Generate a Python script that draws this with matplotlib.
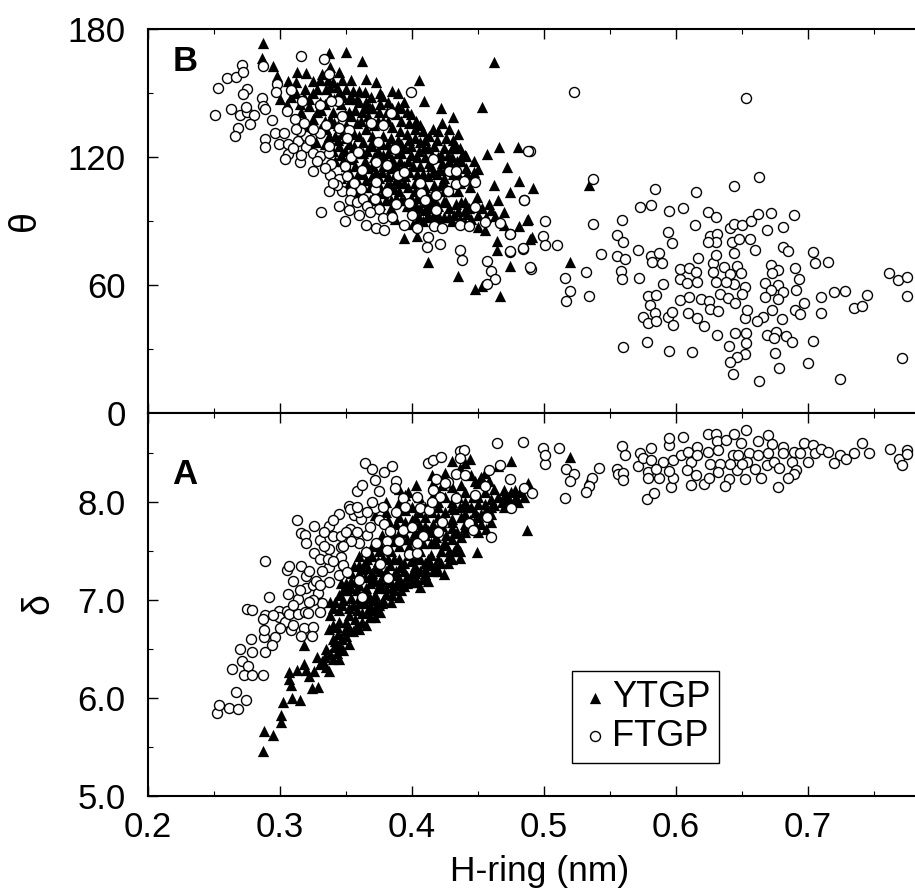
import matplotlib
matplotlib.use("Agg")
import matplotlib.pyplot as plt
from matplotlib.ticker import MultipleLocator

plt.rcParams['font.family'] = ['Liberation Sans', 'DejaVu Sans']

# Panel B: H-ring distance (nm), theta (degrees)
b_ftgp = [
 (.523,150.3),(.653,147.7),(.489,123),(.537,109.7),(.584,105),(.615,103.4),(.644,106.4),(.663,110.5),(.485,99.7),(.573,96.4),
 (.581,97.5),(.595,94.9),(.605,96),(.624,94.1),(.630,91.7),(.614,88.1),(.559,90.5),(.537,88.6),(.501,90.2),(.474,83.9),
 (.555,83.6),(.560,80),(.594,84.7),(.597,79.9),(.499,83.1),(.501,78.9),(.510,78.9),(.484,77),(.474,75.6),(.543,74.5),
 (.571,76.4),(.555,73.4),(.561,72.2),(.581,73.4),(.587,74.9),(.582,71),(.589,70.5),(.490,67.7),(.532,65.9),(.516,63.1),
 (.558,66.7),(.559,62.8),(.572,63.3),(.590,60.6),(.520,57.2),(.534,54.7),(.517,52.4),(.579,55),(.585,55.3),(.580,50.6),
 (.584,46.7),(.575,45.2),(.579,42),(.585,43),(.594,45.2),(.597,47.2),(.598,41.4),(.560,31.1),(.578,33.1),(.595,29.2),
 (.612,28.8),(.631,36.7),(.621,40.6),(.616,44.4),(.609,46.7),(.603,53.1),(.610,54.2),(.603,62.8),(.608,60.8),(.603,67.5),
 (.610,67.8),(.615,66),(.616,61.6),(.617,72.8),(.619,53.4),(.625,52.7),(.626,48.8),(.632,47.7),(.633,55.8),(.639,53.8),
 (.645,51.6),(.630,61.6),(.636,68.3),(.628,70.1),(.630,74),(.628,66.3),(.644,74.9),(.660,76.6),(.642,80),(.648,81.6),
 (.656,81.6),(.626,83.1),(.631,83.9),(.630,80),(.624,80),(.641,86.6),(.644,88.6),(.650,88.3),(.657,90.2),(.662,93.3),
 (.672,93.9),(.669,85.6),(.681,87),(.689,92.8),(.681,77.7),(.685,76.1),(.704,75.3),(.705,70.5),(.715,70.6),(.672,69.5),
 (.690,67.8),(.677,67.2),(.673,65.6),(.693,62.8),(.667,60.9),(.677,60.2),(.691,57.7),(.681,56.6),(.672,57.7),(.667,54.2),
 (.677,53.4),(.646,69.1),(.649,65.6),(.641,65.2),(.644,60.5),(.652,58.9),(.638,61.3),(.650,55.8),(.710,54.2),(.720,56.9),
 (.728,57.4),(.745,55.5),(.735,49.4),(.741,50.3),(.761,65.6),(.768,62.4),(.775,63.6),(.775,55),(.771,25.6),(.697,51.4),
 (.690,48.4),(.694,46.4),(.710,46.9),(.673,48.4),(.680,44.1),(.666,45.2),(.661,43.3),(.652,44.4),(.654,48.4),(.645,37.5),
 (.653,37.5),(.653,32.8),(.640,31.6),(.652,27.7),(.646,26.1),(.641,23.8),(.643,18.3),(.663,14.9),(.675,28),(.678,21),
 (.700,23.3),(.724,15.9),(.704,33.9),(.669,36.6),(.676,37.8),(.683,36.3),(.688,33.1),(.674,35),
 (.251,139.7),(.253,152.2),(.260,157),(.267,157.4),(.271,163.1),(.272,159.7),(.275,151.9),(.272,149.5),(.263,142.5),(.270,139.7),
 (.275,141),(.274,143.3),(.280,139.7),(.277,135.5),(.268,133.4),(.266,129.9),(.286,147.7),(.287,143.8),(.289,142.5),(.287,162.8),
 (.298,154.2),(.297,150.3),(.308,151.6),(.317,146.1),(.316,167.5),(.333,165.9),(.337,158.9),(.294,137.4),(.305,141.4),(.311,137.8),
 (.296,131.3),(.303,131.1),(.289,128.4),(.289,124.5),(.299,126.1),(.306,126.1),(.314,127.7),(.320,129.7),(.315,132.4),(.330,131.1),
 (.306,121.4),(.304,119.1),(.315,117.5),(.320,124.9),(.325,121.7),(.330,120.6),(.337,121.7),(.337,125.3),(.339,116.7),(.325,113.3),
 (.338,111.7),(.349,115.6),(.345,109.7),(.351,111.3),(.337,103.9),(.347,104.2),(.354,103.4),(.361,105),(.353,99.9),(.358,99.1),
 (.363,100.3),(.372,105),(.372,100.3),(.375,95.6),(.381,103.4),(.388,98),(.398,98.4),(.378,91.3),(.331,94.1),(.349,90.2),
 (.365,88),(.373,86.7),(.379,85.8),(.394,88.3),(.404,86.7),(.417,87.5),(.423,86.6),(.412,82.4),(.421,79.2),(.411,77.8),
 (.436,76.6),(.438,71.9),(.436,88.3),(.443,87.5),(.455,89.4),(.467,88.9),(.474,83.9),(.474,75.8),(.484,77.2),(.457,71.4),
 (.460,66.7),(.463,62.8),(.457,60.5),(.489,68.3),(.488,123),(.485,99.9),(.399,150.3),(.406,107.7),(.407,103),(.418,102.3),
 (.418,95.3),(.427,103.9),(.428,113.3),(.433,113.6),(.433,107.4),(.439,108.6),(.448,108.4),(.448,96.7),(.416,119.1),(.389,111.6),
 (.394,113.1),(.381,116.4),(.373,117.5),(.362,113.9),(.354,120.2),(.359,122.2),(.374,127.2),(.378,135.2),(.369,136.1),(.352,132.7),
 (.345,133.4),(.335,135.2),(.347,139.4),(.344,146.1),(.339,146.4),(.330,144.5),(.384,140.6),(.351,128.8),(.387,123.8),(.373,108.1),
 (.31,124),(.316,121),(.323,128),(.328,118),(.334,115),(.312,133),(.318,136),(.325,133),(.343,107),(.356,108),
 (.366,97),(.385,92),(.4,93),(.41,100),(.345,97),(.34,108),(.352,95),(.36,93),(.368,94),
]
b_ytgp = [
 (.287,173.5),(.286,166.3),(.295,162.8),(.337,168.6),(.350,169),(.362,165.2),(.462,164.4),(.453,143.6),(.365,156.6),(.373,155.3),
 (.405,156.1),(.313,160),(.320,159.2),(.325,155.8),(.338,162),(.306,155.8),(.298,158.1),(.385,151.1),(.364,150.6),(.377,148.8),
 (.409,146.4),(.422,142.8),(.431,138.6),(.423,135.9),(.416,133.1),(.466,124.5),(.480,124.5),(.472,115.2),(.441,120.6),(.457,121.4),
 (.447,118.3),(.450,114.4),(.462,107),(.481,108.6),(.474,103.4),(.488,91),(.481,87.8),(.470,94.1),(.465,99.9),(.458,98),
 (.449,101.1),(.440,99),(.435,94.9),(.442,93.3),(.463,92.5),(.450,87),(.464,80.5),(.464,76.4),(.474,68.8),(.489,81.6),
 (.435,64.4),(.412,70.9),(.394,82),(.404,83.1),(.401,88.6),(.387,91),(.411,91.7),(.416,92.5),(.424,91.7),(.430,90.2),
 (.420,97.2),(.414,97.2),(.424,99.5),(.453,59.7),(.448,58.1),(.467,55),(.492,105.5),(.487,90.5),(.491,82.4),(.520,70.9),
 (.534,107),(.312,150),(.318,148),(.325,150),(.33,146),(.322,144),(.331,142),(.316,141),(.325,138),(.334,137),
 (.337,130),(.335,152),(.340,155),(.345,150),(.350,152),(.338,148),(.346,145),(.354,148),(.36,146),(.34,141),
 (.349,140),(.357,142),(.335,133),(.342,130),(.35,135),(.358,136),(.345,125),(.34,123),(.352,126),(.36,130),
 (.365,133),(.355,120),(.348,118),(.36,122),(.352,113),(.365,146),(.37,143),(.376,145),(.382,146),(.389,150),
 (.367,139),(.374,137),(.381,141),(.388,140),(.394,146),(.37,130),(.378,130),(.385,134),(.392,137),(.398,136),
 (.366,123),(.374,123),(.382,126),(.389,128),(.396,131),(.402,133),(.37,116),(.378,116),(.385,119),(.392,122),
 (.399,125),(.406,127),(.365,109),(.375,110),(.382,111),(.39,114),(.397,118),(.404,120),(.378,103),(.386,105),
 (.394,108),(.41,128),(.417,125),(.424,124),(.431,128),(.41,120),(.416,113),(.423,117),(.43,120),(.436,124),
 (.404,112),(.41,106),(.417,107),(.424,110),(.431,112),(.437,118),(.402,104),(.41,99),(.417,100),(.424,104),
 (.4,97),(.394,100),(.384,96),(.435,104),(.428,96),(.412,93),(.405,92),(.39,108),(.387,112),(.30,147),
 (.305,145),(.312,155),(.319,152),(.328,152),(.33,156),(.345,160),(.352,147),(.36,151),
 (.334,145),(.341,147),(.348,148),(.355,151),(.362,141),(.369,148),(.376,150),(.341,136),(.347,131),(.354,139),
 (.361,137),(.368,143),(.375,141),(.382,137),(.389,144),(.396,141),(.403,137),(.408,132),(.342,118),(.349,123),
 (.356,125),(.363,127),(.37,125),(.377,126),(.384,129),(.391,132),(.398,128),(.405,123),(.412,124),(.419,128),
 (.426,129),(.433,125),(.44,121),(.35,116),(.357,116),(.364,118),(.371,120),(.378,121),(.385,124),(.392,126),
 (.399,121),(.406,116),(.413,117),(.42,120),(.427,121),(.434,118),(.441,115),(.447,113),(.346,110),(.356,108),
 (.363,112),(.37,111),(.377,113),(.384,115),(.391,118),(.398,113),(.405,108),(.412,111),(.419,112),(.426,115),
 (.433,116),(.44,110),(.36,104),(.368,106),(.376,106),(.383,107),(.39,104),(.397,106),(.404,101),(.411,102),
 (.418,104),(.425,107),(.432,108),(.376,98),(.384,100),(.392,100),(.399,101),(.406,96),(.413,96),(.42,93),
 (.428,92),(.436,91),(.443,96),(.45,93),(.456,92),(.46,95),(.437,99),(.445,91),(.47,88),(.318,135),
 (.324,133),(.33,133),(.327,127),(.334,126),(.308,148),(.315,145),(.322,147),(.328,141),(.332,159),(.336,156),
 (.347,156),(.354,156),(.338,153),(.343,153),
 (.338,138),(.344,135),(.352,141),(.358,147),(.364,143),(.371,135),(.378,137),(.385,143),(.392,143),(.399,140),
 (.406,135),(.413,130),(.42,132),(.428,133),(.435,131),(.344,128),(.35,129),(.356,131),(.363,122),(.369,126),
 (.376,119),(.382,122),(.389,122),(.395,124),(.402,129),(.409,124),(.415,121),(.422,121),(.43,124),(.438,121),
 (.346,121),(.353,119),(.36,113),(.366,115),(.373,113),(.38,117),(.387,116),(.394,116),(.401,116),(.408,112),
 (.414,116),(.421,114),(.428,118),(.435,112),(.442,112),(.352,108),(.358,109),(.368,100),(.373,104),(.381,107),
 (.388,109),(.395,111),(.402,108),(.409,103),(.415,102),(.422,107),(.429,104),(.436,108),(.444,106),(.38,100),
 (.388,101),(.396,97),(.403,97),(.41,95),(.418,96),(.426,99),(.433,98),(.44,95),(.447,97),(.453,96),
 (.408,90),(.42,89),(.432,93),(.44,89),(.455,86),
]

# Panel A: H-ring distance (nm), delta
a_ftgp = [
 (.252,5.85),(.254,5.93),(.261,5.90),(.268,5.89),(.274,5.98),(.267,6.06),(.264,6.30),(.271,6.38),(.276,6.33),(.273,6.24),
 (.279,6.24),(.287,6.24),(.270,6.50),(.279,6.47),(.278,6.60),(.289,6.47),(.288,6.62),(.288,6.69),(.296,6.62),(.294,6.54),
 (.275,6.91),(.279,6.90),(.289,6.85),(.287,6.81),(.299,6.89),(.299,6.83),(.305,6.89),(.304,6.78),(.308,6.69),(.307,6.86),
 (.314,6.86),(.319,6.88),(.292,7.03),(.306,7.06),(.314,7.01),(.320,7.12),(.325,7.15),(.320,7.25),(.289,7.40),(.305,7.31),
 (.307,7.35),(.316,7.35),(.313,7.82),(.316,7.68),(.319,7.66),(.320,7.58),(.326,7.76),(.330,7.61),(.337,7.76),(.340,7.65),
 (.346,7.65),(.337,7.52),(.346,7.54),(.326,7.48),(.330,7.42),(.337,7.34),(.346,7.44),(.348,7.36),(.345,7.26),(.351,7.29),
 (.329,7.07),(.337,7.18),(.332,6.97),(.330,6.88),(.321,6.87),(.318,6.72),(.325,6.73),(.316,6.63),(.324,6.63),(.345,7.88),
 (.352,7.96),(.356,7.87),(.353,7.93),(.358,8.11),(.362,8.17),(.364,8.40),(.370,8.34),(.379,8.31),(.385,8.37),(.372,8.23),
 (.375,8.11),(.388,8.22),(.387,8.14),(.353,7.73),(.358,7.70),(.366,7.66),(.368,7.75),(.361,7.83),(.372,7.94),(.375,7.82),
 (.379,7.78),(.383,7.71),(.388,7.90),(.393,7.72),(.400,7.75),(.408,7.65),(.393,8.04),(.404,8.05),(.406,7.94),(.413,7.92),
 (.423,7.80),(.373,7.58),(.381,7.60),(.360,7.58),(.354,7.6),(.365,7.49),(.381,7.51),(.398,7.47),(.404,7.48),(.376,7.37),
 (.382,7.23),(.360,7.21),(.362,7.03),(.412,8.40),(.416,8.43),(.422,8.46),(.418,8.24),(.416,8.12),(.427,8.21),(.433,8.29),
 (.421,8.05),(.433,8.04),(.436,8.52),(.439,8.53),(.436,8.45),(.464,8.60),(.484,8.61),(.499,8.55),(.501,8.39),(.501,8.48),
 (.458,8.33),(.467,8.38),(.474,8.24),(.455,8.16),(.448,8.07),(.485,8.14),(.491,8.09),(.475,7.94),(.457,7.85),(.443,7.79),
 (.446,7.72),(.460,7.64),(.511,8.55),(.517,8.34),(.523,8.29),(.520,8.22),(.516,8.04),(.542,8.35),(.536,8.25),(.534,8.16),
 (.532,8.10),(.559,8.57),(.561,8.48),(.555,8.34),(.556,8.29),(.560,8.30),(.560,8.23),(.571,8.37),(.573,8.50),(.575,8.45),
 (.581,8.55),(.581,8.43),(.579,8.31),(.579,8.25),(.587,8.25),(.590,8.41),(.585,8.34),(.578,8.03),(.583,8.09),(.596,8.15),
 (.598,8.25),(.595,8.32),(.598,8.43),(.595,8.58),(.595,8.65),(.605,8.67),(.604,8.48),(.609,8.51),(.616,8.56),(.611,8.41),
 (.608,8.33),(.615,8.28),(.611,8.17),(.621,8.19),(.625,8.25),(.626,8.39),(.616,8.48),(.624,8.51),(.624,8.70),(.630,8.70),
 (.631,8.62),(.632,8.53),(.633,8.39),(.638,8.63),(.643,8.48),(.644,8.70),(.649,8.6),(.653,8.74),(.662,8.62),(.670,8.69),
 (.673,8.59),(.655,8.50),(.654,8.41),(.646,8.33),(.641,8.39),(.632,8.31),(.640,8.24),(.637,8.16),(.652,8.24),(.664,8.25),
 (.677,8.15),(.670,8.50),(.662,8.48),(.669,8.38),(.674,8.41),(.678,8.35),(.681,8.56),(.681,8.50),(.688,8.41),(.689,8.51),
 (.694,8.50),(.697,8.60),(.704,8.58),(.705,8.50),(.710,8.54),(.715,8.51),(.700,8.41),(.691,8.33),(.689,8.29),(.685,8.25),
 (.724,8.48),(.729,8.44),(.720,8.40),(.735,8.50),(.741,8.60),(.746,8.50),(.762,8.54),(.769,8.44),(.771,8.38),(.775,8.53),
 (.775,8.49),(.647,8.48),(.660,8.34),(.650,8.39),
 (.31,7.2),(.315,7.1),(.322,7.3),(.327,7.2),(.31,6.95),(.325,7.0),(.332,7.3),(.336,7.42),(.333,7.55),(.34,7.4),
 (.35,7.7),(.34,7.82),(.333,7.7),(.348,7.55),(.36,7.9),(.366,7.9),(.378,7.95),(.37,8.0),(.358,7.95),(.39,7.6),
 (.404,7.58),(.42,7.7),(.395,7.95),(.415,8.0),(.425,8.2),(.44,8.28),(.31,6.75),(.3,6.72),(.295,6.85),(.322,6.98),
 (.33,7.15),
]
a_ytgp = [
 (.287,5.46),(.288,5.66),(.295,5.62),(.301,5.83),(.301,5.76),(.302,5.96),(.309,6.0),(.315,5.98),(.308,6.13),(.307,6.19),
 (.307,6.27),(.324,6.10),(.329,6.11),(.318,6.35),(.313,6.29),(.320,6.29),(.328,6.42),(.322,6.22),(.335,6.32),(.348,6.49),
 (.343,6.46),(.318,6.54),(.335,6.5),(.34,6.6),(.345,6.55),(.35,6.63),(.337,6.7),(.343,6.73),(.35,6.78),(.345,6.9),
 (.338,6.85),(.352,6.92),(.357,6.81),(.362,6.87),(.368,6.83),(.368,6.94),(.36,6.97),(.372,6.83),(.338,6.98),(.345,7.05),
 (.35,7.1),(.358,7.1),(.365,7.12),(.372,7.05),(.378,7.0),(.385,7.05),(.38,7.12),(.346,7.17),(.354,7.2),(.36,7.28),
 (.368,7.25),(.376,7.2),(.388,7.15),(.392,7.1),(.356,7.35),(.364,7.38),(.372,7.33),(.38,7.3),(.388,7.3),(.396,7.25),
 (.403,7.22),(.41,7.27),(.36,7.45),(.37,7.45),(.378,7.43),(.386,7.42),(.394,7.38),(.402,7.35),(.41,7.38),(.42,7.3),
 (.424,7.27),(.418,7.35),(.427,7.38),(.432,7.5),(.37,7.55),(.384,7.5),(.39,7.55),(.398,7.55),(.406,7.5),(.414,7.46),
 (.422,7.5),(.428,7.45),(.424,7.58),(.414,7.58),(.418,7.64),(.43,7.62),(.44,7.7),(.44,7.78),(.43,7.74),(.42,7.72),
 (.41,7.76),(.395,7.8),(.402,7.85),(.39,7.85),(.41,7.85),(.42,7.85),(.43,7.83),(.38,7.9),(.372,7.87),(.38,8.0),
 (.39,8.0),(.4,7.95),(.412,7.96),(.42,7.95),(.432,7.93),(.44,7.88),(.448,7.9),(.456,7.92),(.462,7.97),(.468,8.0),
 (.473,8.02),(.48,8.0),(.485,8.05),(.46,8.03),(.45,7.98),(.44,8.0),(.43,8.0),(.452,8.26),(.458,8.22),(.455,8.3),
 (.465,8.37),(.475,8.42),(.488,8.2),(.44,8.4),(.444,8.44),(.43,8.42),(.43,8.15),(.416,8.2),(.403,8.17),(.39,8.13),
 (.42,8.1),(.44,8.1),(.46,7.8),(.452,7.78),(.456,7.73),(.45,7.7),(.487,7.72),(.449,7.49),(.406,7.13),(.446,8.05),
 (.475,8.1),(.520,8.46),(.534,8.24),(.473,8.05),(.479,8.05),(.478,8.12),
 (.33,6.35),(.326,6.28),(.334,6.42),(.34,6.4),(.337,6.28),(.345,6.4),(.341,6.52),(.352,6.55),(.355,6.68),(.36,6.7),
 (.365,6.75),(.349,6.69),(.344,6.65),(.352,6.85),(.358,6.9),(.364,6.97),(.37,6.9),(.376,6.88),(.375,6.95),(.384,6.98),
 (.39,7.03),(.342,6.98),(.348,7.0),(.354,7.02),(.362,7.05),(.368,7.02),(.374,7.12),(.385,7.12),(.396,7.17),(.4,7.28),
 (.406,7.3),(.35,7.17),(.358,7.18),(.364,7.24),(.372,7.2),(.382,7.22),(.39,7.22),(.404,7.18),(.412,7.2),(.36,7.36),
 (.367,7.33),(.376,7.3),(.383,7.36),(.391,7.34),(.399,7.4),(.406,7.42),(.414,7.36),(.422,7.38),(.43,7.42),(.436,7.43),
 (.434,7.55),(.426,7.66),(.437,7.64),(.365,7.5),(.375,7.5),(.38,7.55),(.386,7.6),(.392,7.62),(.4,7.62),(.408,7.58),
 (.41,7.66),(.402,7.7),(.393,7.7),(.385,7.68),(.377,7.66),(.388,7.78),(.405,7.78),(.416,7.78),(.423,7.76),(.434,7.7),
 (.447,7.8),(.382,7.82),(.415,7.9),(.425,7.9),(.436,7.95),(.405,7.9),(.395,7.92),(.445,7.95),(.455,7.98),(.47,8.06),
 (.465,8.05),(.478,8.03),(.45,7.85),(.46,7.88),(.435,8.05),(.425,8.05),(.415,8.05),(.405,8.05),(.395,8.07),(.437,8.17),
 (.448,8.22),(.45,8.2),(.445,8.28),(.462,8.13),(.455,8.1),(.47,8.12),(.482,8.1),(.423,8.17),(.425,8.3),(.436,8.35),
 (.415,8.28),(.397,8.1),
 (.332,6.38),(.338,6.45),(.346,6.5),(.342,6.58),(.347,6.6),(.352,6.72),(.358,6.75),(.362,6.78),(.366,6.88),(.372,6.92),
 (.377,6.97),(.345,6.78),(.34,6.75),(.34,6.92),(.347,6.95),(.355,6.95),(.36,7.02),(.366,7.05),(.372,7.0),(.38,7.06),
 (.386,7.1),(.394,7.14),(.348,7.1),(.354,7.12),(.36,7.15),(.368,7.17),(.376,7.15),(.384,7.18),(.392,7.18),(.4,7.18),
 (.408,7.22),(.354,7.28),(.362,7.32),(.37,7.28),(.378,7.25),(.386,7.26),(.394,7.3),(.402,7.28),(.41,7.32),(.416,7.3),
 (.366,7.42),(.374,7.4),(.382,7.42),(.39,7.42),(.398,7.46),(.404,7.44),(.412,7.42),(.42,7.42),(.428,7.5),(.436,7.5),
 (.376,7.56),(.382,7.62),(.39,7.68),(.396,7.62),(.404,7.65),(.412,7.72),(.418,7.58),(.426,7.56),(.432,7.68),(.44,7.75),
 (.398,7.75),(.406,7.72),(.414,7.7),(.422,7.8),(.43,7.8),(.437,7.85),(.444,7.82),(.452,7.88),(.4,7.82),(.41,7.95),
 (.42,8.0),(.43,7.95),(.44,7.95),(.45,8.05),(.46,7.95),(.47,7.95),
]
x_ticks = [0.2, 0.3, 0.4, 0.5, 0.6, 0.7]
theta_ticks = [0, 60, 120, 180]
delta_ticks = [5.0, 6.0, 7.0, 8.0]
legend_names = ["YTGP", "FTGP"]

W, H = 915, 892
fig = plt.figure(figsize=(W/100, H/100), dpi=100)
L = 148/W
ax_b = fig.add_axes([L, (H-413)/H, 1-L, 384/H])
ax_a = fig.add_axes([L, (H-796)/H, 1-L, 383/H])

def scatter(ax, tri, cir):
    ax.scatter(*zip(*tri), marker='^', s=66, c='k', linewidths=0, zorder=2, label=legend_names[0])
    ax.scatter(*zip(*cir), marker='o', s=52, facecolors='white', edgecolors='k', linewidths=1.0, zorder=3, label=legend_names[1])

scatter(ax_b, b_ytgp, b_ftgp)
scatter(ax_a, a_ytgp, a_ftgp)

xlim = (0.2, 0.781)
for ax in (ax_a, ax_b):
    ax.set_xlim(*xlim)
    ax.spines['right'].set_visible(False)
    for s in ('left', 'top', 'bottom'):
        ax.spines[s].set_linewidth(1.5)
    ax.set_xticks(x_ticks)
    ax.xaxis.set_minor_locator(MultipleLocator(0.05))
    ax.tick_params(which='major', direction='in', length=7, width=1, top=True, labelsize=25)
    ax.tick_params(which='minor', direction='in', length=3.5, width=0.8, top=True)
    ax.tick_params(axis='y', which='major', pad=16)
    ax.tick_params(axis='x', which='major', pad=11)

ax_b.set_ylim(0, 180)
ax_b.set_yticks(theta_ticks)
ax_b.yaxis.set_minor_locator(MultipleLocator(30))
ax_b.tick_params(axis='x', labelbottom=False)
ax_b.set_ylabel("θ", fontsize=27, va='center')
ax_b.yaxis.set_label_coords((25-148)/(W-148), (413-221)/384)
ax_b.text(0.032, 0.915, "B", transform=ax_b.transAxes, fontsize=25, fontweight='bold', va='center', ha='left')

ax_a.set_ylim(5.0, 8.91)
ax_a.set_yticks(delta_ticks)
ax_a.set_yticklabels([f"{v:.1f}" for v in delta_ticks])
ax_a.yaxis.set_minor_locator(MultipleLocator(0.5))
ax_a.set_ylabel("δ", fontsize=27, va='center')
ax_a.yaxis.set_label_coords((38-148)/(W-148), (796-604)/383)
ax_a.set_xlabel("H-ring (nm)", fontsize=25.5)
ax_a.xaxis.set_label_coords((540-148)/(W-148), -0.155)
ax_a.text(0.031, 0.84, "A", transform=ax_a.transAxes, fontsize=25, fontweight='bold', va='center', ha='left')

leg = ax_a.legend(loc='lower left', bbox_to_anchor=((572-148)/(W-148), (796-763)/383), borderaxespad=0,
                  fontsize=26, frameon=True, fancybox=False, framealpha=1, edgecolor='k',
                  markerscale=1.0, handletextpad=0.1, borderpad=0.25, labelspacing=0.1, handlelength=0.75, scatterpoints=1)
leg.get_frame().set_linewidth(1)

fig.savefig("out.png", dpi=100)
